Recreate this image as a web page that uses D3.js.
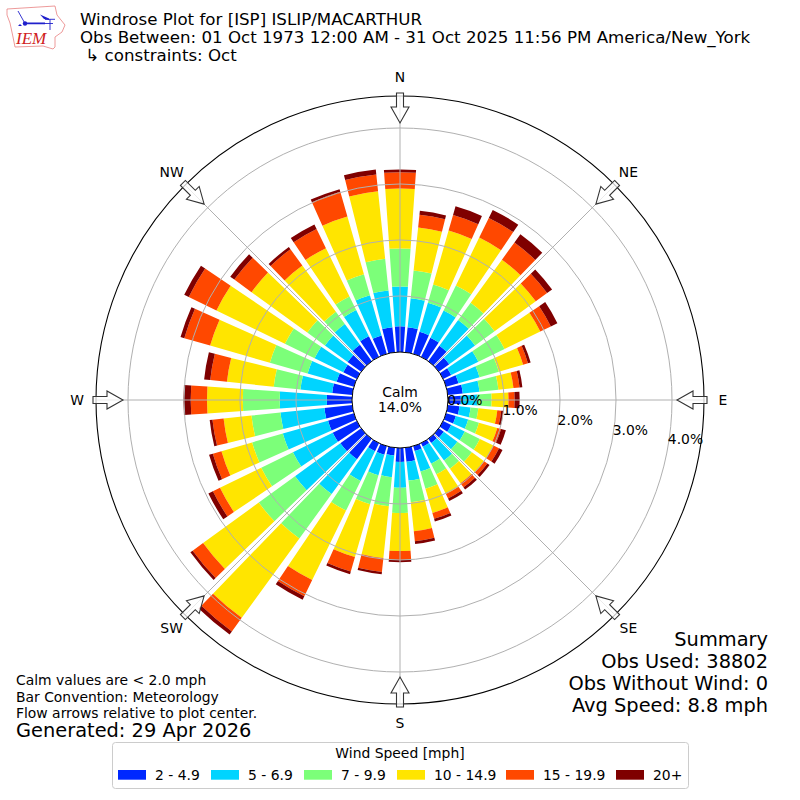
<!DOCTYPE html>
<html>
<head>
<meta charset="utf-8">
<script src="https://cdn.jsdelivr.net/npm/d3@7"></script>
<style>
  html, body { margin: 0; padding: 0; background: #fff; }
  svg { display: block; }
  text { font-family: "DejaVu Sans", sans-serif; fill: #000; }
</style>
</head>
<body>
<div id="chart"></div>
<script>
/* Windrose for ISP, October. Values are percent of obs per 10 degree sector */
const directions = d3.range(36).map((i) => i * 10);
const speedLabels = ["2 - 4.9", "5 - 6.9", "7 - 9.9", "10 - 14.9", "15 - 19.9", "20+"];
const speedColors = ["#0028ff", "#00d4ff", "#7cff79", "#ffe500", "#ff4800", "#7f0000"];

const s2to5 = [.46,.45,.41,.38,.34,.23,.16,.23,.27,.23,.21,.18,.16,.11,.09,.07,.09,.25,.25,.14,.16,.16,.45,.46,.48,.48,.50,.45,.36,.32,.27,.30,.36,.41,.34,.45];
const s5to7 = [.71,.52,.54,.54,.57,.57,.54,.39,.30,.30,.20,.23,.27,.30,.39,.34,.38,.34,.46,.39,.38,.59,.77,1.00,.79,.84,.79,.84,.57,.54,.57,.50,.46,.52,.75,.66];
const s7to10 = [.68,.50,.34,.50,.38,.43,.52,.36,.34,.25,.14,.20,.30,.32,.18,.21,.32,.39,.45,.52,.54,.59,.98,.80,.63,.57,.52,.66,.48,.70,.59,.39,.27,.27,.39,.57];
const s10to15 = [1.07,.77,1.00,.95,.95,.91,.71,.45,.27,.30,.34,.34,.27,.27,.32,.39,.45,.52,.68,.93,.98,1.38,1.75,1.23,.82,.57,.50,.64,.84,1.11,1.36,1.23,1.02,.96,1.07,1.21];
const s15to20 = [.29,.23,.29,.39,.38,.25,.21,.09,.11,.11,.07,.07,.11,.07,.09,.09,.11,.18,.16,.25,.27,.32,.30,.23,.14,.16,.20,.29,.30,.48,.55,.38,.36,.38,.46,.30];
const s20up = [.05,.07,.16,.16,.18,.11,.13,.05,.05,.09,.04,.09,.07,.05,.05,.05,.05,.05,.04,.04,.05,.07,.07,.05,.09,.07,.05,.13,.11,.07,.09,.09,.05,.09,.05,.09];
const series = [s2to5, s5to7, s7to10, s10to15, s15to20, s20up];

const rTicks = [0, 1, 2, 3, 4];
const compass = ["N", "NE", "E", "SE", "S", "SW", "W", "NW"];
const titleLines = [
  "Windrose Plot for [ISP] ISLIP/MACARTHUR",
  "Obs Between: 01 Oct 1973 12:00 AM - 31 Oct 2025 11:56 PM America/New_York",
  " \u21b3 constraints: Oct"
];
const noteLines = ["Calm values are < 2.0 mph", "Bar Convention: Meteorology", "Flow arrows relative to plot center."];
const summaryLines = ["Summary", "Obs Used: 38802", "Obs Without Wind: 0", "Avg Speed: 8.8 mph"];

const cx = 400, cy = 400, rCalm = 48, rOuter = 304;
const rad = d3.scaleLinear().domain([0, 4.5714]).range([rCalm, rOuter]);
const barWidth = 8 * Math.PI / 180;
const toRad = (d) => d * Math.PI / 180;
const polar = (deg, r) => [cx + r * Math.sin(toRad(deg)), cy - r * Math.cos(toRad(deg))];

const svg = d3.select("#chart").append("svg").attr("width", 800).attr("height", 800);
const plot = svg.append("g").attr("transform", `translate(${cx},${cy})`);

// bars
const arc = d3.arc();
const stacks = d3.stack().keys(d3.range(6))
  .value((d, k) => series[k][d])(d3.range(directions.length));
stacks.forEach((layer, k) => {
  plot.append("g").selectAll("path").data(layer).join("path")
    .attr("fill", speedColors[k])
    .attr("d", (d, i) => arc({
      innerRadius: rad(d[0]), outerRadius: rad(d[1]),
      startAngle: toRad(directions[i]) - barWidth / 2,
      endAngle: toRad(directions[i]) + barWidth / 2
    }));
});

// grid goes over the bars
const grid = plot.append("g").attr("fill", "none").attr("stroke", "#b0b0b0").attr("stroke-width", 1);
grid.selectAll("circle").data(rTicks.slice(1)).join("circle").attr("r", (d) => rad(d));
grid.selectAll("line").data(compass).join("line")
  .attr("x1", (d, i) => rCalm * Math.sin(toRad(i * 45)))
  .attr("y1", (d, i) => -rCalm * Math.cos(toRad(i * 45)))
  .attr("x2", (d, i) => rOuter * Math.sin(toRad(i * 45)))
  .attr("y2", (d, i) => -rOuter * Math.cos(toRad(i * 45)));

// calm circle and frame
plot.append("circle").attr("r", rCalm).attr("fill", "#fff").attr("stroke", "#000").attr("stroke-width", 1);
plot.append("circle").attr("r", rOuter).attr("fill", "none").attr("stroke", "#000").attr("stroke-width", 1.1);

// flow arrows, pointing at the center
const arrowPath = "M-3.5,-307 L3.5,-307 L3.5,-293 L9,-293 L0,-277 L-9,-293 L-3.5,-293 Z";
plot.append("g").selectAll("path").data(compass).join("path")
  .attr("d", arrowPath)
  .attr("transform", (d, i) => `rotate(${i * 45})`)
  .attr("fill", "#fff").attr("fill-opacity", 0.75)
  .attr("stroke", "#333").attr("stroke-width", 1.1);

// compass labels
svg.append("g").selectAll("text").data(compass).join("text")
  .attr("x", (d, i) => polar(i * 45, 323)[0])
  .attr("y", (d, i) => polar(i * 45, 323)[1])
  .attr("text-anchor", "middle").attr("dominant-baseline", "central")
  .attr("font-size", 13.9).text((d) => d);

// radial tick labels run along the 100 degree bearing
svg.append("g").selectAll("text").data(rTicks).join("text")
  .attr("x", (d) => polar(100, rad(d))[0])
  .attr("y", (d) => polar(100, rad(d))[1] - 3)
  .attr("font-size", 13.9).text((d) => d.toFixed(1) + "%");

plot.append("text").attr("text-anchor", "middle").attr("y", -3).attr("font-size", 13.9).text("Calm");
plot.append("text").attr("text-anchor", "middle").attr("y", 12).attr("font-size", 13.9).text("14.0%");

// titles
svg.append("g").selectAll("text").data(titleLines).join("text")
  .attr("x", 80).attr("y", (d, i) => 25 + i * 18)
  .style("white-space", "pre")
  .attr("font-size", 16.67).text((d) => d);

// bottom left notes
svg.append("g").selectAll("text").data(noteLines).join("text")
  .attr("x", 16).attr("y", (d, i) => 685 + i * 16.5)
  .attr("font-size", 13.9).text((d) => d);
svg.append("text").attr("x", 16).attr("y", 737).attr("font-size", 19.4).text("Generated: 29 Apr 2026");

// summary
svg.append("g").selectAll("text").data(summaryLines).join("text")
  .attr("x", 768).attr("y", (d, i) => 646 + i * 22)
  .attr("text-anchor", "end").attr("font-size", 19.4).text((d) => d);

// legend
const legend = svg.append("g");
legend.append("rect").attr("x", 112.5).attr("y", 742.5).attr("width", 576).attr("height", 46).attr("rx", 3)
  .attr("fill", "#fff").attr("stroke", "#ccc");
legend.append("text").attr("x", 400).attr("y", 758).attr("text-anchor", "middle").attr("font-size", 13.9).text("Wind Speed [mph]");
const legendX = [118, 211, 304, 397, 506, 616];
const items = legend.selectAll("g").data(speedLabels).join("g")
  .attr("transform", (d, i) => `translate(${legendX[i]},770)`);
items.append("rect").attr("width", 28).attr("height", 9.7).attr("fill", (d, i) => speedColors[i]);
items.append("text").attr("x", 37).attr("y", 10).attr("font-size", 13.9).text((d) => d);

// IEM logo
const logo = svg.append("g");
logo.append("path")
  .attr("d", "M7,9 L55,6 L57,15 L65,25 L62,32 L55,37 L55,47 L53,49 L43,46 L15,47 L13,37 L10,23 L7,15 Z")
  .attr("fill", "none").attr("stroke", "#e88080").attr("stroke-width", 0.8);
logo.append("path")
  .attr("d", "M18,11 L25,23.5 M25,23.5 H45 L53,23.5 M45,19.3 H55 M50,19.3 V30")
  .attr("fill", "none").attr("stroke", "#2020cc").attr("stroke-width", 0.9);
logo.append("path").attr("d", "M25,22.5 H45 V24.3 H25 Z M40,14.5 L49,18.5 L49,20 L44,19 Z M20,24 L22,26 H18 Z")
  .attr("fill", "#2020cc");
logo.append("circle").attr("cx", 25).attr("cy", 23.5).attr("r", 2.2).attr("fill", "#2020cc");
logo.append("text").attr("x", 16).attr("y", 44).attr("font-size", 17).attr("font-style", "italic")
  .style("font-family", "'Liberation Serif', serif").style("fill", "#d02020").text("IEM");
</script>
</body>
</html>
